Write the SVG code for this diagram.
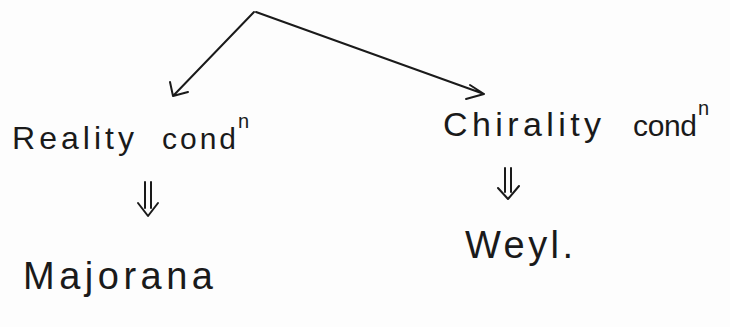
<svg xmlns="http://www.w3.org/2000/svg" width="730" height="327" viewBox="0 0 730 327">
<style>
.t{font-family:"Liberation Sans","DejaVu Sans",sans-serif;fill:#1a1a1a}
.c{fill:none;stroke:#1a1a1a;stroke-width:2;stroke-linecap:round;stroke-linejoin:round}
</style>
<rect width="730" height="327" fill="#fdfdfd"/>
<g id="connectors">
<path class="c" d="M254 12 L173 96 M173 96 L170 82 M173 96 L188 92"/>
<path class="c" d="M256 12 L484 94 M484 94 L470 85 M484 94 L466 99"/>
<path class="c" d="M145 182 L145 208 M151 182 L151 208 M138 203 L148 216 L158 203"/>
<path class="c" d="M505 168 L505 192 M511 168 L511 192 M498 188 L508 199 L519 186"/>
</g>
<g id="reality">
<text class="t" x="12" y="149" font-size="32" textLength="122" lengthAdjust="spacing">Reality</text>
<text class="t" x="162" y="149" font-size="30" textLength="74" lengthAdjust="spacing">cond</text>
<text class="t" x="238" y="128" font-size="20">n</text>
</g>
<g id="chirality">
<text class="t" x="443" y="136" font-size="34" textLength="158" lengthAdjust="spacing">Chirality</text>
<text class="t" x="633" y="136" font-size="30" textLength="64" lengthAdjust="spacing">cond</text>
<text class="t" x="698" y="115" font-size="20">n</text>
</g>
<g id="majorana">
<text class="t" x="23" y="289" font-size="38" textLength="190" lengthAdjust="spacing">Majorana</text>
</g>
<g id="weyl">
<text class="t" x="465" y="258" font-size="38" textLength="108" lengthAdjust="spacing">Weyl.</text>
</g>
</svg>
